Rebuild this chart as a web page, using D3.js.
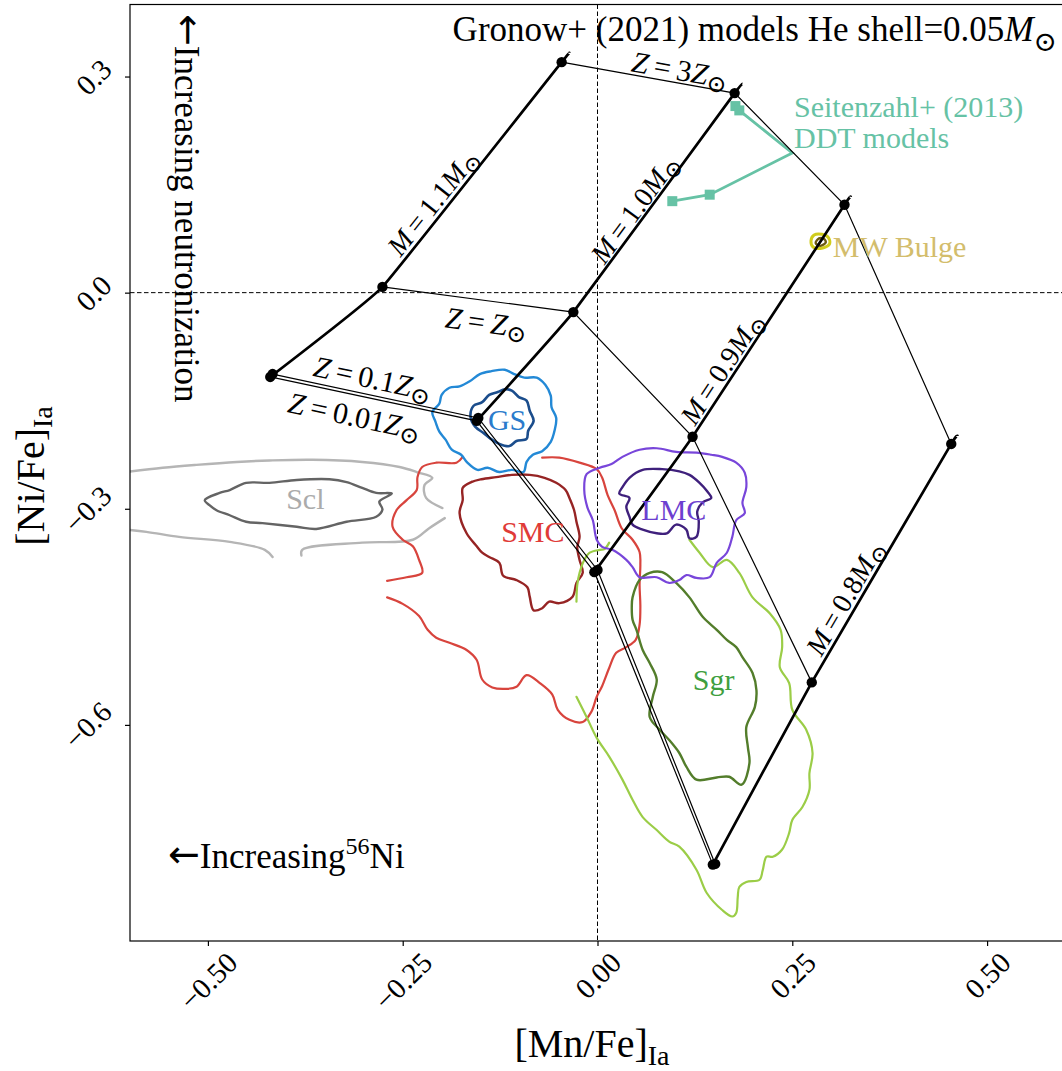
<!DOCTYPE html>
<html><head><meta charset="utf-8">
<script src="https://cdn.jsdelivr.net/npm/d3@7"></script>
<style>body{margin:0;background:#fff}svg{display:block}</style>
</head><body>
<svg id="chart" width="1062" height="1071"></svg>
<script>
// ---------------- DATA ----------------
const xTicks = [-0.5, -0.25, 0, 0.25, 0.5];
const xTickLabels = ["\u22120.50", "\u22120.25", "0.00", "0.25", "0.50"];
const yTicks = [-0.6, -0.3, 0, 0.3];
const yTickLabels = ["\u22120.6", "\u22120.3", "0.0", "0.3"];

// Gronow+ (2021) models; order of metallicities: 0.01, 0.1, 1, 3 Zsun
const metallicities = ["0.01", "0.1", "1", "3"];
const masses = ["1.1", "1.0", "0.9", "0.8"];
const mnM11 = [-0.420, -0.417, -0.276, -0.046];
const niM11 = [-0.117, -0.113, 0.008, 0.320];
const mnM10 = [-0.155, -0.153, -0.031, 0.176];
const niM10 = [-0.178, -0.174, -0.027, 0.277];
const mnM09 = [-0.004, 0.000, 0.122, 0.317];
const niM09 = [-0.388, -0.385, -0.200, 0.122];
const mnM08 = [0.148, 0.151, 0.275, 0.454];
const niM08 = [-0.794, -0.793, -0.541, -0.210];
// end of each mass track beyond Z = 3 Zsun
const mnTrackEnd = [-0.036, 0.186, 0.325, 0.462];
const niTrackEnd = [0.333, 0.290, 0.133, -0.199];

// Seitenzahl+ (2013) DDT models
const seitMn = [0.177, 0.182, 0.250, 0.144, 0.096];
const seitNi = [0.259, 0.253, 0.194, 0.136, 0.127];
const seitMarker = [true, true, false, true, true];

// Galaxy contours ([Mn/Fe], [Ni/Fe])
const gsOuter = [[-0.164,-0.123],[-0.151,-0.113],[-0.136,-0.109],[-0.119,-0.107],[-0.107,-0.113],[-0.094,-0.118],[-0.078,-0.118],[-0.067,-0.128],[-0.060,-0.143],[-0.059,-0.159],[-0.053,-0.174],[-0.055,-0.191],[-0.060,-0.207],[-0.071,-0.220],[-0.083,-0.225],[-0.091,-0.235],[-0.095,-0.249],[-0.110,-0.246],[-0.126,-0.249],[-0.141,-0.243],[-0.154,-0.246],[-0.167,-0.236],[-0.175,-0.225],[-0.187,-0.218],[-0.195,-0.204],[-0.203,-0.193],[-0.208,-0.179],[-0.212,-0.166],[-0.203,-0.154],[-0.200,-0.142],[-0.190,-0.132],[-0.177,-0.130]];
const gsInner = [[-0.128,-0.138],[-0.119,-0.134],[-0.110,-0.136],[-0.101,-0.145],[-0.091,-0.150],[-0.087,-0.164],[-0.082,-0.178],[-0.089,-0.192],[-0.091,-0.203],[-0.104,-0.206],[-0.113,-0.213],[-0.126,-0.210],[-0.137,-0.203],[-0.146,-0.195],[-0.157,-0.186],[-0.163,-0.172],[-0.159,-0.157],[-0.148,-0.152],[-0.139,-0.142]];
const sclOuterA = [[-0.614,-0.250],[-0.558,-0.243],[-0.515,-0.239],[-0.463,-0.235],[-0.421,-0.233],[-0.366,-0.232],[-0.302,-0.235],[-0.254,-0.242],[-0.232,-0.249],[-0.212,-0.257],[-0.222,-0.267],[-0.220,-0.285],[-0.199,-0.299]];
const sclOuterB = [[-0.196,-0.313],[-0.216,-0.327],[-0.237,-0.343],[-0.302,-0.347],[-0.379,-0.357],[-0.380,-0.365]];
const sclOuterC = [[-0.417,-0.367],[-0.427,-0.357],[-0.472,-0.346],[-0.537,-0.339],[-0.579,-0.332],[-0.614,-0.328]];
const sclInner = [[-0.504,-0.288],[-0.485,-0.278],[-0.472,-0.274],[-0.451,-0.264],[-0.421,-0.264],[-0.386,-0.260],[-0.344,-0.259],[-0.322,-0.263],[-0.302,-0.271],[-0.284,-0.278],[-0.264,-0.279],[-0.280,-0.290],[-0.276,-0.301],[-0.284,-0.311],[-0.322,-0.318],[-0.361,-0.328],[-0.386,-0.325],[-0.430,-0.320],[-0.451,-0.318],[-0.472,-0.309],[-0.489,-0.302],[-0.498,-0.295]];
const smcOuterA = [[-0.071,-0.229],[-0.049,-0.229],[-0.023,-0.236],[-0.001,-0.245],[0.006,-0.257],[0.013,-0.281],[0.022,-0.302],[0.031,-0.327],[0.045,-0.343],[0.054,-0.360],[0.055,-0.378],[0.054,-0.406],[0.055,-0.434],[0.054,-0.461],[0.049,-0.482],[0.037,-0.492],[0.024,-0.500],[0.015,-0.521],[0.006,-0.546],[-0.001,-0.561],[-0.008,-0.582],[-0.019,-0.596],[-0.036,-0.593],[-0.051,-0.579],[-0.058,-0.558],[-0.074,-0.542],[-0.091,-0.531],[-0.104,-0.547],[-0.117,-0.550],[-0.135,-0.548],[-0.148,-0.537],[-0.155,-0.510],[-0.168,-0.496],[-0.190,-0.486],[-0.207,-0.479],[-0.218,-0.468],[-0.229,-0.449],[-0.250,-0.432],[-0.270,-0.423]];
const smcOuterB = [[-0.270,-0.400],[-0.245,-0.395],[-0.225,-0.389],[-0.229,-0.371],[-0.237,-0.352],[-0.250,-0.343],[-0.263,-0.325],[-0.258,-0.302],[-0.245,-0.288],[-0.232,-0.274],[-0.231,-0.256],[-0.225,-0.242],[-0.207,-0.236],[-0.181,-0.236],[-0.173,-0.228]];
const smcInner = [[-0.173,-0.271],[-0.162,-0.263],[-0.149,-0.259],[-0.130,-0.256],[-0.110,-0.253],[-0.087,-0.253],[-0.068,-0.257],[-0.053,-0.264],[-0.041,-0.274],[-0.036,-0.285],[-0.030,-0.302],[-0.027,-0.318],[-0.023,-0.339],[-0.026,-0.354],[-0.023,-0.371],[-0.019,-0.389],[-0.027,-0.403],[-0.032,-0.422],[-0.049,-0.431],[-0.062,-0.429],[-0.071,-0.438],[-0.082,-0.441],[-0.087,-0.422],[-0.090,-0.409],[-0.104,-0.399],[-0.121,-0.393],[-0.126,-0.375],[-0.139,-0.367],[-0.148,-0.361],[-0.155,-0.352],[-0.168,-0.334],[-0.177,-0.306],[-0.173,-0.288]];
const lmcOuter = [[-0.014,-0.252],[0.003,-0.243],[0.018,-0.238],[0.032,-0.228],[0.054,-0.218],[0.076,-0.216],[0.101,-0.221],[0.127,-0.222],[0.146,-0.225],[0.160,-0.228],[0.178,-0.236],[0.189,-0.250],[0.191,-0.270],[0.186,-0.292],[0.189,-0.306],[0.178,-0.316],[0.173,-0.339],[0.166,-0.361],[0.153,-0.375],[0.144,-0.395],[0.127,-0.396],[0.114,-0.392],[0.105,-0.399],[0.092,-0.403],[0.076,-0.395],[0.054,-0.395],[0.045,-0.381],[0.037,-0.371],[0.019,-0.357],[0.006,-0.353],[-0.001,-0.343],[-0.006,-0.316],[-0.013,-0.298],[-0.017,-0.274]];
const lmcInner = [[0.041,-0.257],[0.058,-0.246],[0.083,-0.245],[0.105,-0.248],[0.118,-0.253],[0.131,-0.264],[0.141,-0.276],[0.146,-0.285],[0.135,-0.291],[0.128,-0.304],[0.130,-0.318],[0.127,-0.339],[0.118,-0.341],[0.114,-0.329],[0.101,-0.322],[0.089,-0.334],[0.076,-0.334],[0.058,-0.329],[0.045,-0.322],[0.041,-0.311],[0.037,-0.297],[0.041,-0.285],[0.028,-0.279],[0.032,-0.270]];
const sgrOuterA = [[-0.027,-0.429],[-0.026,-0.406],[-0.023,-0.389],[-0.017,-0.371],[-0.010,-0.361],[0.003,-0.357],[0.009,-0.356],[0.015,-0.347]];
const sgrOuterB = [[-0.027,-0.561],[-0.014,-0.589],[-0.001,-0.618],[0.015,-0.644],[0.032,-0.676],[0.045,-0.704],[0.058,-0.728],[0.076,-0.746],[0.092,-0.762],[0.105,-0.769],[0.127,-0.801],[0.140,-0.833],[0.160,-0.857],[0.173,-0.866],[0.178,-0.861],[0.180,-0.839],[0.182,-0.825],[0.191,-0.818],[0.208,-0.815],[0.212,-0.802],[0.217,-0.783],[0.225,-0.783],[0.237,-0.773],[0.246,-0.750],[0.250,-0.732],[0.263,-0.714],[0.272,-0.690],[0.272,-0.667],[0.276,-0.639],[0.268,-0.607],[0.250,-0.579],[0.246,-0.542],[0.234,-0.520],[0.237,-0.492],[0.235,-0.468],[0.221,-0.445],[0.199,-0.423],[0.182,-0.389],[0.166,-0.371],[0.148,-0.381],[0.131,-0.361],[0.118,-0.343]];
const sgrInner = [[0.045,-0.423],[0.054,-0.399],[0.067,-0.389],[0.083,-0.388],[0.101,-0.403],[0.118,-0.423],[0.135,-0.450],[0.153,-0.468],[0.166,-0.482],[0.178,-0.492],[0.186,-0.506],[0.199,-0.528],[0.204,-0.552],[0.202,-0.575],[0.191,-0.603],[0.193,-0.631],[0.195,-0.653],[0.185,-0.683],[0.169,-0.672],[0.153,-0.673],[0.127,-0.676],[0.114,-0.658],[0.105,-0.639],[0.092,-0.621],[0.080,-0.607],[0.067,-0.589],[0.071,-0.561],[0.076,-0.537],[0.067,-0.514],[0.058,-0.496],[0.050,-0.468],[0.045,-0.454],[0.044,-0.436]];
const mwOuter = [[0.274,0.072],[0.278,0.080],[0.288,0.081],[0.296,0.077],[0.298,0.068],[0.289,0.062],[0.277,0.063]];
const mwInner = [[0.280,0.069],[0.284,0.075],[0.290,0.075],[0.293,0.070],[0.286,0.065]];

const galaxyNames = ["GS", "Scl", "SMC", "LMC", "Sgr", "MW Bulge"];
const galaxyLabelMn = [-0.116, -0.375, -0.083, 0.098, 0.149, 0.302];
const galaxyLabelNi = [-0.191, -0.300, -0.346, -0.316, -0.551, 0.050];

// ---------------- SETUP ----------------
const FONT = "'Liberation Serif','Times New Roman','DejaVu Serif',serif";
const ARROWFONT = "'DejaVu Sans',sans-serif";
const svg = d3.select("#chart");
const xs = d3.scaleLinear().domain([-0.6, 0.6]).range([130, 1065]);
const ys = d3.scaleLinear().domain([0.4, -0.9]).range([4.5, 941]);

svg.append("rect").attr("width", 1062).attr("height", 1071).attr("fill", "#fff");
svg.append("defs").append("clipPath").attr("id", "clip").append("rect")
  .attr("x", xs(-0.6)).attr("y", ys(0.4)).attr("width", xs(0.6) - xs(-0.6)).attr("height", ys(-0.9) - ys(0.4));
const plot = svg.append("g").attr("clip-path", "url(#clip)");

// reference dashed lines
plot.append("line").attr("x1", xs(0)).attr("x2", xs(0)).attr("y1", ys(0.4)).attr("y2", ys(-0.9))
  .attr("stroke", "#000").attr("stroke-width", 1).attr("stroke-dasharray", "4.5,2.5");
plot.append("line").attr("x1", xs(-0.6)).attr("x2", xs(0.6)).attr("y1", ys(0)).attr("y2", ys(0))
  .attr("stroke", "#000").attr("stroke-width", 1).attr("stroke-dasharray", "4.5,2.5");

// ---------------- CONTOURS ----------------
const openLine = d3.line().x(d => xs(d[0])).y(d => ys(d[1])).curve(d3.curveCatmullRom.alpha(0.5));
const closedLine = d3.line().x(d => xs(d[0])).y(d => ys(d[1])).curve(d3.curveCatmullRomClosed.alpha(0.5));
const contours = [
  {pts: sclOuterA, c: "#b5b5b5", closed: false, w: 2.4},
  {pts: sclOuterB, c: "#b5b5b5", closed: false, w: 2.4},
  {pts: sclOuterC, c: "#b5b5b5", closed: false, w: 2.4},
  {pts: sclInner, c: "#646464", closed: true, w: 2.4},
  {pts: smcOuterA, c: "#d8443d", closed: false, w: 2.2},
  {pts: smcOuterB, c: "#d8443d", closed: false, w: 2.2},
  {pts: smcInner, c: "#962424", closed: true, w: 2.4},
  {pts: sgrOuterA, c: "#9bcd47", closed: false, w: 2.2},
  {pts: sgrOuterB, c: "#9bcd47", closed: false, w: 2.2},
  {pts: sgrInner, c: "#537d2b", closed: true, w: 2.4},
  {pts: lmcOuter, c: "#7846da", closed: true, w: 2.2},
  {pts: lmcInner, c: "#3f207c", closed: true, w: 2.4},
  {pts: gsOuter, c: "#2389d6", closed: true, w: 2.4},
  {pts: gsInner, c: "#1b4d8c", closed: true, w: 2.6},
  {pts: mwOuter, c: "#d0cc1c", closed: true, w: 3},
  {pts: mwInner, c: "#6b5a12", closed: true, w: 2.4}
];
plot.selectAll("path.contour").data(contours).join("path").attr("class", "contour")
  .attr("d", d => (d.closed ? closedLine : openLine)(d.pts))
  .attr("fill", "none").attr("stroke", d => d.c).attr("stroke-width", d => d.w)
  .attr("stroke-linejoin", "round").attr("stroke-linecap", "round");

// ---------------- SEITENZAHL ----------------
const seit = seitMn.map((m, i) => ({m, n: seitNi[i], mk: seitMarker[i]}));
plot.append("path").attr("d", d3.line().x(d => xs(d.m)).y(d => ys(d.n))(seit))
  .attr("fill", "none").attr("stroke", "#66c2a5").attr("stroke-width", 2.8);
plot.selectAll("rect.seit").data(seit.filter(d => d.mk)).join("rect").attr("class", "seit")
  .attr("x", d => xs(d.m) - 5).attr("y", d => ys(d.n) - 5).attr("width", 10).attr("height", 10)
  .attr("fill", "#66c2a5");

// ---------------- GRONOW MODEL GRID ----------------
const massMn = [mnM11, mnM10, mnM09, mnM08];
const massNi = [niM11, niM10, niM09, niM08];
const straight = d3.line().x(d => xs(d[0])).y(d => ys(d[1]));
const smooth = d3.line().x(d => xs(d[0])).y(d => ys(d[1])).curve(d3.curveCardinal.tension(0.75));

// constant metallicity lines (thin)
metallicities.forEach((z, zi) => {
  const pts = massMn.map((mn, mi) => [mn[zi], massNi[mi][zi]]);
  plot.append("path").attr("d", straight(pts)).attr("fill", "none")
    .attr("stroke", "#000").attr("stroke-width", 1.2);
});
// constant mass tracks (thick)
masses.forEach((m, mi) => {
  const pts = [[massMn[mi][0], massNi[mi][0]], [massMn[mi][2], massNi[mi][2]],
               [massMn[mi][3], massNi[mi][3]], [mnTrackEnd[mi], niTrackEnd[mi]]];
  plot.append("path").attr("d", smooth(pts)).attr("fill", "none")
    .attr("stroke", "#000").attr("stroke-width", 2.7).attr("stroke-linecap", "butt");
});
// model points
masses.forEach((m, mi) => {
  metallicities.forEach((z, zi) => {
    plot.append("circle").attr("cx", xs(massMn[mi][zi])).attr("cy", ys(massNi[mi][zi]))
      .attr("r", 5.2).attr("fill", "#000");
  });
});

// ---------------- LABELS ----------------
function mathText(sel, parts) {
  parts.forEach(p => {
    const t = sel.append("tspan").text(p.t);
    if (p.i) t.attr("font-style", "italic");
    if (p.sub) t.attr("font-size", "0.8em").attr("dy", "0.35em").attr("font-family", "'DejaVu Serif',serif");
  });
}
function lineLabel(a, b, t, off, parts, fs) {
  const x0 = xs(a[0]), y0 = ys(a[1]), x1 = xs(b[0]), y1 = ys(b[1]);
  const ang = Math.atan2(y1 - y0, x1 - x0);
  const len = Math.hypot(x1 - x0, y1 - y0);
  const nx = (y1 - y0) / len, ny = -(x1 - x0) / len;
  const px = x0 + t * (x1 - x0) + off * nx, py = y0 + t * (y1 - y0) + off * ny;
  const txt = svg.append("text").attr("transform", `translate(${px},${py}) rotate(${ang * 180 / Math.PI})`)
    .attr("text-anchor", "middle").attr("dominant-baseline", "central")
    .attr("font-family", FONT).attr("font-size", fs).attr("fill", "#000");
  mathText(txt, parts);
}
const sp = "\u2009=\u2009";
const sun = {t: "\u2299", sub: true};
const P = (mi, zi) => [massMn[mi][zi], massNi[mi][zi]];
// mass labels along Z=1 -> Z=3 segment
lineLabel(P(0, 2), P(0, 3), 0.34, 14, [{t: "M", i: true}, {t: sp + "1.1"}, {t: "M", i: true}, sun], 28);
lineLabel(P(1, 2), P(1, 3), 0.44, 12.5, [{t: "M", i: true}, {t: sp + "1.0"}, {t: "M", i: true}, sun], 28);
lineLabel(P(2, 2), P(2, 3), 0.265, 13.5, [{t: "M", i: true}, {t: sp + "0.9"}, {t: "M", i: true}, sun], 28);
lineLabel(P(3, 2), P(3, 3), 0.326, 14.5, [{t: "M", i: true}, {t: sp + "0.8"}, {t: "M", i: true}, sun], 28);
// metallicity labels along M=1.1 -> M=1.0 segment
lineLabel(P(0, 3), P(1, 3), 0.67, 14, [{t: "Z", i: true}, {t: sp + "3"}, {t: "Z", i: true}, sun], 30);
lineLabel(P(0, 2), P(1, 2), 0.56, -21, [{t: "Z", i: true}, {t: sp}, {t: "Z", i: true}, sun], 30);
lineLabel(P(0, 1), P(1, 1), 0.47, 17.5, [{t: "Z", i: true}, {t: sp + "0.1"}, {t: "Z", i: true}, sun], 30);
lineLabel(P(0, 0), P(1, 0), 0.43, -20, [{t: "Z", i: true}, {t: sp + "0.01"}, {t: "Z", i: true}, sun], 30);

// galaxy labels
const galaxyColors = ["#2a7bcc", "#ababab", "#e03b38", "#6d3fd0", "#3f9f3f", "#d3bd6c"];
galaxyNames.forEach((g, i) => {
  svg.append("text").attr("x", xs(galaxyLabelMn[i])).attr("y", ys(galaxyLabelNi[i]))
    .attr("text-anchor", g === "MW Bulge" ? "start" : "middle")
    .attr("font-family", FONT).attr("font-size", 30).attr("fill", galaxyColors[i]).text(g);
});

// Seitenzahl label
svg.append("text").attr("x", 794).attr("y", 117).attr("font-family", FONT).attr("font-size", 30)
  .attr("fill", "#66c2a5").text("Seitenzahl+ (2013)");
svg.append("text").attr("x", 794).attr("y", 148).attr("font-family", FONT).attr("font-size", 30)
  .attr("fill", "#66c2a5").text("DDT models");

// title
const title = svg.append("text").attr("x", 1057).attr("y", 41).attr("text-anchor", "end")
  .attr("font-family", FONT).attr("font-size", 35).attr("fill", "#000");
mathText(title, [{t: "Gronow+ (2021) models He shell=0.05"}, {t: "M", i: true}, sun]);

// annotations
const ann1 = svg.append("text").attr("x", 168).attr("y", 868).attr("font-family", FONT)
  .attr("font-size", 35).attr("fill", "#000");
ann1.append("tspan").text("\u2190").attr("font-family", ARROWFONT).attr("font-size", 38).attr("dy", -1);
ann1.append("tspan").text("Increasing").attr("dy", 1);
ann1.append("tspan").text("56").attr("font-size", 24).attr("dy", -14);
ann1.append("tspan").text("Ni").attr("dy", 14);
const ann2 = svg.append("text").attr("transform", "translate(175,14) rotate(90)").attr("font-family", FONT)
  .attr("font-size", 35).attr("fill", "#000");
ann2.append("tspan").text("\u2190").attr("font-family", ARROWFONT).attr("font-size", 38).attr("dy", -1);
ann2.append("tspan").text("Increasing neutronization").attr("dy", 1);

// ---------------- AXES ----------------
const TF = 29, H = 24;
const gx = svg.append("g").attr("transform", `translate(0,${ys(-0.9)})`)
  .call(d3.axisBottom(xs).tickValues(xTicks).tickFormat((d, i) => xTickLabels[i]).tickSize(5));
gx.select(".domain").remove();
gx.selectAll(".tick line").attr("stroke", "#000").attr("stroke-width", 1.2);
gx.selectAll(".tick text").attr("font-family", FONT).attr("font-size", TF).attr("fill", "#000")
  .attr("y", null).attr("dy", null).attr("text-anchor", "middle").attr("dominant-baseline", "central")
  .each(function () {
    const W = this.getComputedTextLength();
    d3.select(this).attr("transform", `translate(0,${8 + 0.354 * (W + H)}) rotate(-45)`);
  });

const gy = svg.append("g").attr("transform", `translate(${xs(-0.6)},0)`)
  .call(d3.axisLeft(ys).tickValues(yTicks).tickFormat((d, i) => yTickLabels[i]).tickSize(5));
gy.select(".domain").remove();
gy.selectAll(".tick line").attr("stroke", "#000").attr("stroke-width", 1.2);
gy.selectAll(".tick text").attr("font-family", FONT).attr("font-size", TF).attr("fill", "#000")
  .attr("x", null).attr("dy", null).attr("text-anchor", "end").attr("dominant-baseline", "central")
  .each(function () {
    const W = this.getComputedTextLength();
    d3.select(this).attr("transform", `translate(${-15 - 0.354 * H},${-0.354 * W}) rotate(-45)`);
  });

// frame
svg.append("rect").attr("x", xs(-0.6)).attr("y", ys(0.4)).attr("width", xs(0.6) - xs(-0.6))
  .attr("height", ys(-0.9) - ys(0.4)).attr("fill", "none").attr("stroke", "#000").attr("stroke-width", 1.2);

// axis titles
const xl = svg.append("text").attr("x", 592).attr("y", 1057).attr("text-anchor", "middle")
  .attr("font-family", FONT).attr("font-size", 40).attr("fill", "#000");
xl.append("tspan").text("[Mn/Fe]");
xl.append("tspan").text("Ia").attr("font-size", 28).attr("dy", 8);
const yl = svg.append("text").attr("transform", "translate(44,476) rotate(-90)").attr("text-anchor", "middle")
  .attr("font-family", FONT).attr("font-size", 40).attr("fill", "#000");
yl.append("tspan").text("[Ni/Fe]");
yl.append("tspan").text("Ia").attr("font-size", 28).attr("dy", 8);
</script>
</body></html>
